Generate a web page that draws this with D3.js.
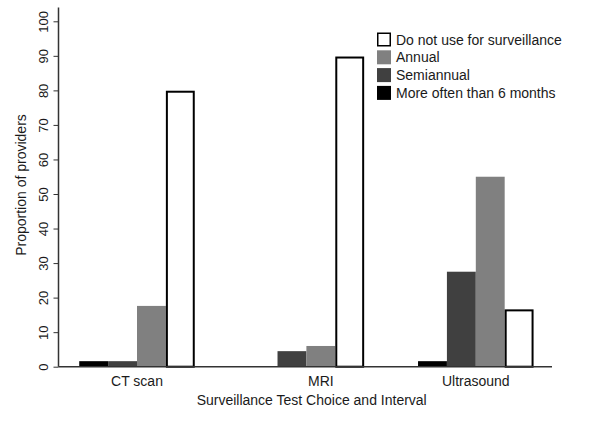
<!DOCTYPE html>
<html>
<head>
<meta charset="utf-8">
<script src="https://cdn.jsdelivr.net/npm/d3@7"></script>
<style>
  html, body { margin: 0; padding: 0; background: #fff; }
  svg { display: block; font-family: "Liberation Sans", Arial, sans-serif; }
</style>
</head>
<body>
<svg id="chart" width="600" height="421"></svg>
<script>
// ---- data ----
const categories = ["CT scan", "MRI", "Ultrasound"];
const seriesNames = ["More often than 6 months", "Semiannual", "Annual", "Do not use for surveillance"];
const moreOften  = [1.6, null, 1.6];
const semiannual = [1.6, 4.5, 27.5];
const annual     = [17.6, 6.0, 55.0];
const doNotUse   = [79.9, 89.8, 16.6];
const yTicks = [0, 10, 20, 30, 40, 50, 60, 70, 80, 90, 100];
const xTitle = "Surveillance Test Choice and Interval";
const yTitle = "Proportion of providers";

// ---- styles ----
const fills   = ["#000000", "#404040", "#808080", "#ffffff"];
const strokes = ["none", "none", "none", "#000000"];
const textColor = "#1a1a1a";

const seriesValues = [moreOften, semiannual, annual, doNotUse];

const svg = d3.select("#chart");
svg.append("rect").attr("width", 600).attr("height", 421).attr("fill", "#fff");

const axisLeftX = 58.5, axisRightX = 552, axisTopY = 7.5;

const y = d3.scaleLinear().domain([0, 100]).range([366.7, 21.3]);
const x = d3.scaleBand().domain(categories).range([52.3, 560.5])
  .paddingInner(0.318).paddingOuter(0.159);
const xs = d3.scaleBand().domain(d3.range(seriesNames.length)).range([0, x.bandwidth()]);

// bars
const g = svg.append("g");
categories.forEach((c, ci) => {
  seriesValues.forEach((vals, si) => {
    const v = vals[ci];
    if (v == null) return;
    const sw = strokes[si] === "none" ? 0 : 2;
    g.append("rect")
      .attr("x", x(c) + xs(si) + sw / 2)
      .attr("y", y(v) + sw / 2)
      .attr("width", xs.bandwidth() - sw)
      .attr("height", y(0) - y(v) - sw / 2)
      .attr("fill", fills[si])
      .attr("stroke", strokes[si])
      .attr("stroke-width", sw);
  });
});

// y axis
const yAxis = d3.axisLeft(y).tickValues(yTicks).tickSize(5).tickSizeOuter(0);
const ya = svg.append("g").attr("transform", `translate(${axisLeftX},0)`).call(yAxis);
ya.select(".domain").remove();
ya.selectAll(".tick line").attr("stroke", "#333").attr("stroke-width", 1);
ya.selectAll(".tick text")
  .attr("transform", "rotate(-90)")
  .attr("x", 0).attr("dx", null).attr("dy", null)
  .attr("y", -11)
  .attr("text-anchor", "middle")
  .attr("font-size", 13)
  .attr("fill", textColor)
  .style("font-family", "Liberation Sans, Arial, sans-serif")
  .each(function (d) {
    // rotated text: x along axis -> -y(d)
    d3.select(this).attr("x", 0);
  });
// reposition rotated labels to tick positions (ticks translated in y)
ya.selectAll(".tick text").attr("y", -11).attr("dominant-baseline", "auto");

svg.append("line")
  .attr("x1", axisLeftX).attr("x2", axisLeftX)
  .attr("y1", axisTopY).attr("y2", y(0))
  .attr("stroke", "#333").attr("stroke-width", 1.5);

// x baseline
svg.append("line")
  .attr("x1", axisLeftX).attr("x2", axisRightX)
  .attr("y1", y(0)).attr("y2", y(0))
  .attr("stroke", "#333").attr("stroke-width", 1.5);

// category labels: centred over the bars that are present
categories.forEach((c, ci) => {
  const present = seriesValues.map((vals, si) => vals[ci] == null ? null : si).filter(s => s != null);
  const left = x(c) + xs(d3.min(present));
  const right = x(c) + xs(d3.max(present)) + xs.bandwidth();
  svg.append("text")
    .attr("x", (left + right) / 2)
    .attr("y", y(0) + 19)
    .attr("text-anchor", "middle")
    .attr("font-size", 14)
    .attr("fill", textColor)
    .text(c);
});

// axis titles
svg.append("text")
  .attr("x", 311.7).attr("y", 405)
  .attr("text-anchor", "middle")
  .attr("font-size", 14)
  .attr("fill", textColor)
  .text(xTitle);

svg.append("text")
  .attr("transform", `translate(26,185) rotate(-90)`)
  .attr("text-anchor", "middle")
  .attr("font-size", 14)
  .attr("fill", textColor)
  .text(yTitle);

// legend (reverse order)
const legendOrder = d3.range(seriesNames.length).reverse();
const lg = svg.append("g").attr("transform", "translate(377,32.5)");
legendOrder.forEach((si, i) => {
  const row = lg.append("g").attr("transform", `translate(0,${i * 17.8})`);
  const sw = strokes[si] === "none" ? 0 : 1.5;
  row.append("rect")
    .attr("x", sw / 2).attr("y", sw / 2)
    .attr("width", 14 - sw).attr("height", 14 - sw)
    .attr("fill", fills[si])
    .attr("stroke", strokes[si])
    .attr("stroke-width", sw);
  row.append("text")
    .attr("x", 19).attr("y", 12)
    .attr("font-size", 14)
    .attr("fill", textColor)
    .text(seriesNames[si]);
});
</script>
</body>
</html>
